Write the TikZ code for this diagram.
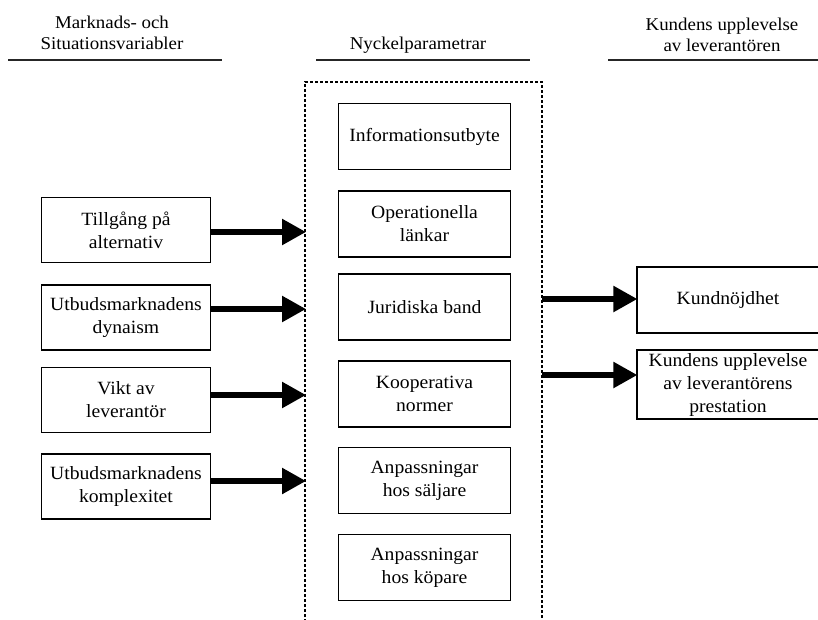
\documentclass[tikz,border=0pt]{standalone}
\usepackage{fontspec}
\setmainfont{Liberation Serif}[FakeStretch=1.05]
\usetikzlibrary{arrows.meta}

\begin{document}
\begin{tikzpicture}[x=1pt,y=-1pt,
  header/.style={align=center, inner sep=0pt, anchor=base,
    font=\fontsize{18}{21}\selectfont},
  rule/.style={line width=1.6pt, draw=black!85},
  box/.style={draw, line width=1.3pt, align=center, inner sep=0pt,
    font=\fontsize{18.7}{23}\selectfont},
  leftbox/.style={box, minimum width=169pt, minimum height=65pt},
  midbox/.style={box, minimum width=172pt, minimum height=66pt},
  rightbox/.style={box, minimum width=182pt},
  group/.style={draw, line width=1.5pt, dash pattern=on 3pt off 2pt},
  flow/.style={line width=5.5pt, -{Triangle[length=24pt,width=25pt]}, shorten >=-1pt},
]
\useasboundingbox (0,0) rectangle (818,619);

% column headings (base anchor sits on the last line)
\node[header] (hleft) at (112,49) {Marknads- och\\Situationsvariabler};
\node[header] (hmid) at (418,49) {Nyckelparametrar};
\node[header] (hright) at (722,51) {Kundens upplevelse\\av leverantören};
\draw[rule] (8,60) -- (222,60);
\draw[rule] (316,60) -- (530,60);
\draw[rule] (608,60) -- (818,60);

% dashed frame around the key parameters
\draw[group] (305,622) -- (305,82) -- (542,82) -- (542,622);
\coordinate (fl1) at (305,232);
\coordinate (fl2) at (305,309);
\coordinate (fl3) at (305,395);
\coordinate (fl4) at (305,481);
\coordinate (fr1) at (542,299);
\coordinate (fr2) at (542,375);

% key parameters
\node[midbox] (m1) at (424.5,136.5) {Informationsutbyte};
\node[midbox] (m2) at (424.5,224) {Operationella\\länkar};
\node[midbox] (m3) at (424.5,307) {Juridiska band};
\node[midbox] (m4) at (424.5,394) {Kooperativa\\normer};
\node[midbox] (m5) at (424.5,480.5) {Anpassningar\\hos säljare};
\node[midbox] (m6) at (424.5,567.5) {Anpassningar\\hos köpare};

% market and situation variables
\node[leftbox] (l1) at (126,230) {Tillgång på\\alternativ};
\node[leftbox] (l2) at (126,317.5) {Utbudsmarknadens\\dynaism};
\node[leftbox] (l3) at (126,400) {Vikt av\\leverantör};
\node[leftbox] (l4) at (126,486.5) {Utbudsmarknadens\\komplexitet};

% customer perception
\node[rightbox, minimum height=66pt] (r1) at (728,300) {Kundnöjdhet};
\node[rightbox, minimum height=69pt] (r2) at (728,384.5) {Kundens upplevelse\\av leverantörens\\prestation};

% arrows
\draw[flow] (l1.east |- fl1) -- (fl1);
\draw[flow] (l2.east |- fl2) -- (fl2);
\draw[flow] (l3.east |- fl3) -- (fl3);
\draw[flow] (l4.east |- fl4) -- (fl4);
\draw[flow] (fr1) -- (r1.west |- fr1);
\draw[flow] (fr2) -- (r2.west |- fr2);
\end{tikzpicture}
\end{document}
